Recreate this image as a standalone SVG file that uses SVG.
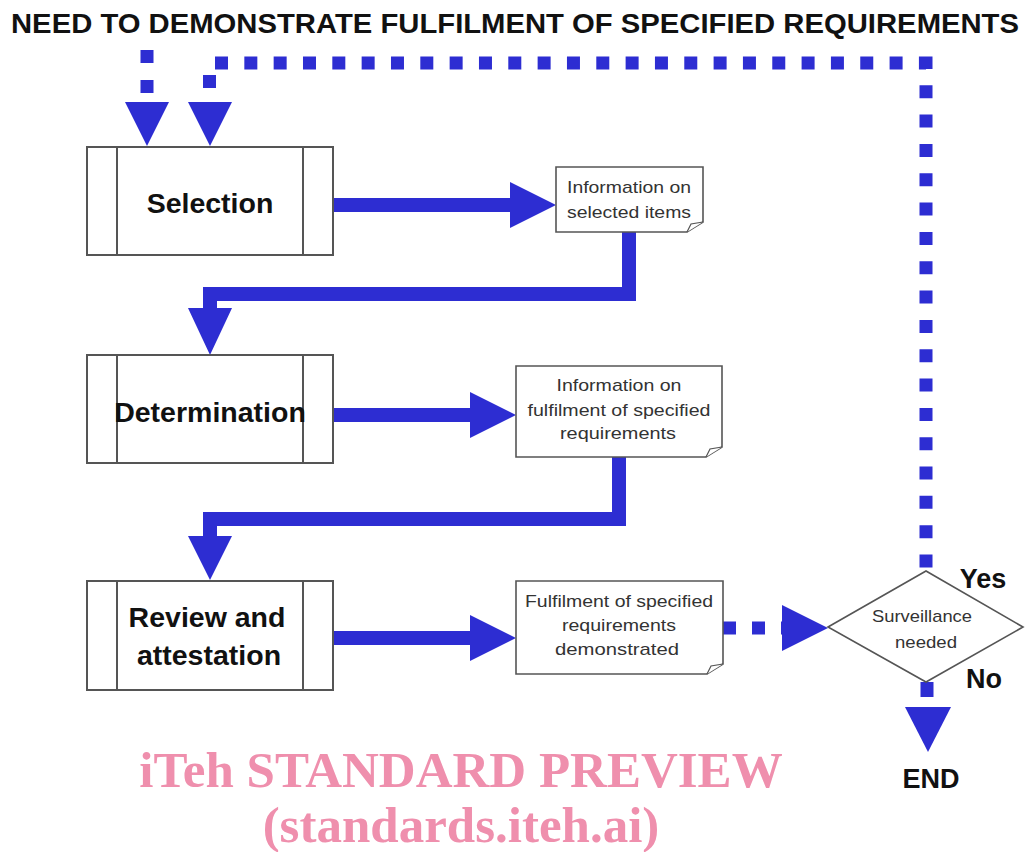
<svg xmlns="http://www.w3.org/2000/svg" width="1027" height="852" viewBox="0 0 1027 852">
<style>
.box{fill:#fff;stroke:#555;stroke-width:2}
.doc{fill:#fff;stroke:#555;stroke-width:1.6}
.fold{fill:#fff;stroke:#555;stroke-width:1.2}
.bt{font-family:"Liberation Sans",Arial,sans-serif;font-weight:bold;font-size:28.5px;fill:#111;text-anchor:middle}
.dt{font-family:"Liberation Sans",Arial,sans-serif;font-size:17px;fill:#333;text-anchor:middle}
.lbl{font-family:"Liberation Sans",Arial,sans-serif;font-weight:bold;font-size:27px;fill:#111;text-anchor:middle}
.wm{font-family:"Liberation Serif","Times New Roman",serif;font-weight:bold;font-size:51px;fill:#ef8fad;text-anchor:middle}
.flow{fill:none;stroke:#2d2dd2;stroke-width:14;stroke-linejoin:miter}
.dot{fill:none;stroke:#2d2dd2;stroke-width:13}
.head{fill:#2d2dd2}
</style>
<text x="11" y="33" font-family="'Liberation Sans',Arial,sans-serif" font-weight="bold" font-size="27" fill="#111" textLength="1008" lengthAdjust="spacingAndGlyphs">NEED TO DEMONSTRATE FULFILMENT OF SPECIFIED REQUIREMENTS</text>

<g id="connectors">
  <path class="dot" d="M147 50 V100" stroke-dasharray="13 17"/>
  <polygon class="head" points="125,102 169,102 147,146"/>
  <path class="dot" d="M215 63 H926 V571" stroke-dasharray="13 16.33"/>
  <rect class="head" x="203" y="75" width="13" height="13"/>
  <polygon class="head" points="188,102 232,102 210,146"/>
  <path class="flow" d="M333 205 H512"/>
  <polygon class="head" points="510,182 556,205 510,228"/>
  <path class="flow" d="M629 232 V294 H210 V310"/>
  <polygon class="head" points="188,308 232,308 210,355"/>
  <path class="flow" d="M333 415 H472"/>
  <polygon class="head" points="470,392 516,415 470,438"/>
  <path class="flow" d="M619 457 V519 H210 V538"/>
  <polygon class="head" points="188,536 232,536 210,580"/>
  <path class="flow" d="M333 638 H472"/>
  <polygon class="head" points="470,615 516,638 470,661"/>
  <path class="dot" d="M723 628 H782" stroke-dasharray="13 16"/>
  <polygon class="head" points="782,605 828,628 782,651"/>
  <path class="dot" d="M927 682 V707" stroke-dasharray="15 20"/>
  <polygon class="head" points="905,707 951,707 928,752"/>
</g>

<g id="selection">
  <rect class="box" x="87" y="147" width="246" height="108"/>
  <line class="box" x1="117" y1="147" x2="117" y2="255"/>
  <line class="box" x1="303" y1="147" x2="303" y2="255"/>
  <text class="bt" x="210" y="213">Selection</text>
</g>
<g id="determination">
  <rect class="box" x="87" y="355" width="246" height="108"/>
  <line class="box" x1="117" y1="355" x2="117" y2="463"/>
  <line class="box" x1="303" y1="355" x2="303" y2="463"/>
  <text class="bt" x="210" y="422" font-size="27.5">Determination</text>
</g>
<g id="review">
  <rect class="box" x="87" y="581" width="246" height="109"/>
  <line class="box" x1="117" y1="581" x2="117" y2="690"/>
  <line class="box" x1="303" y1="581" x2="303" y2="690"/>
  <text class="bt" x="207" y="627">Review and</text>
  <text class="bt" x="209" y="665">attestation</text>
</g>

<g id="doc-selected">
  <path class="doc" d="M556 167 H703 V222 L687 232 H556 Z"/>
  <path class="fold" d="M687 232 L691 224 L703 222"/>
  <text class="dt" x="629" y="193" textLength="124" lengthAdjust="spacingAndGlyphs">Information on</text>
  <text class="dt" x="629" y="218" textLength="124" lengthAdjust="spacingAndGlyphs">selected items</text>
</g>
<g id="doc-fulfilment-info">
  <path class="doc" d="M516 366 H722 V447 L706 457 H516 Z"/>
  <path class="fold" d="M706 457 L710 449 L722 447"/>
  <text class="dt" x="619" y="391" textLength="125" lengthAdjust="spacingAndGlyphs">Information on</text>
  <text class="dt" x="619" y="416" textLength="183" lengthAdjust="spacingAndGlyphs">fulfilment of specified</text>
  <text class="dt" x="618" y="439" textLength="116" lengthAdjust="spacingAndGlyphs">requirements</text>
</g>
<g id="doc-demonstrated">
  <path class="doc" d="M516 581 H723 V664 L707 674 H516 Z"/>
  <path class="fold" d="M707 674 L711 666 L723 664"/>
  <text class="dt" x="619" y="607" textLength="188" lengthAdjust="spacingAndGlyphs">Fulfilment of specified</text>
  <text class="dt" x="619" y="631" textLength="114" lengthAdjust="spacingAndGlyphs">requirements</text>
  <text class="dt" x="617" y="655" textLength="124" lengthAdjust="spacingAndGlyphs">demonstrated</text>
</g>
<g id="decision">
  <polygon class="doc" points="828,627 926,571 1023,627 926,682"/>
  <text class="dt" x="922" y="622" textLength="100" lengthAdjust="spacingAndGlyphs">Surveillance</text>
  <text class="dt" x="926" y="648" textLength="62" lengthAdjust="spacingAndGlyphs">needed</text>
  <text class="lbl" x="983" y="588">Yes</text>
  <text class="lbl" x="984" y="688">No</text>
</g>
<g id="end">
  <text class="lbl" x="931" y="788">END</text>
</g>

<text class="wm" x="461" y="787">iTeh STANDARD PREVIEW</text>
<text class="wm" x="461" y="842">(standards.iteh.ai)</text>
</svg>
